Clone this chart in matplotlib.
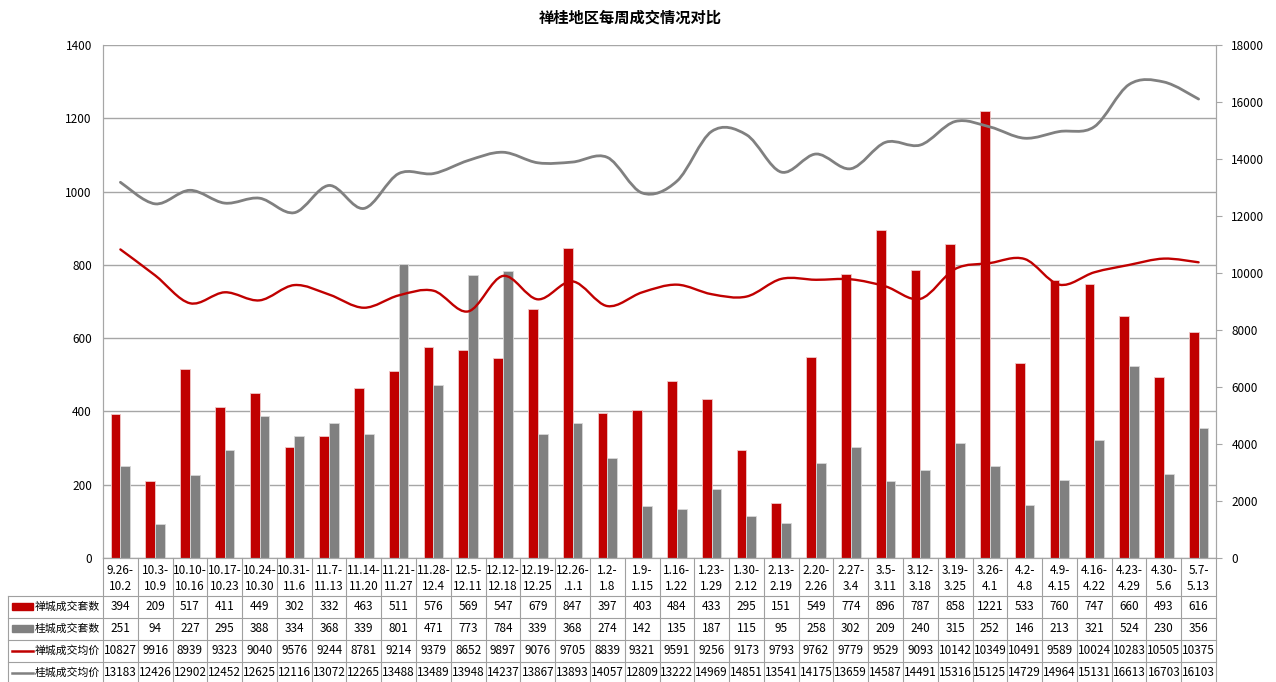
import numpy as np
import matplotlib
matplotlib.use('Agg')
import matplotlib.pyplot as plt
from matplotlib.path import Path
from matplotlib.patches import PathPatch, Rectangle
from matplotlib.lines import Line2D
import matplotlib.transforms as mtransforms

plt.rcParams['font.family'] = ['Noto Sans CJK SC', 'DejaVu Sans']

weeks = ['9.26-10.2', '10.3-10.9', '10.10-10.16', '10.17-10.23', '10.24-10.30', '10.31-11.6',
         '11.7-11.13', '11.14-11.20', '11.21-11.27', '11.28-12.4', '12.5-12.11', '12.12-12.18',
         '12.19-12.25', '12.26-.1.1', '1.2-1.8', '1.9-1.15', '1.16-1.22', '1.23-1.29',
         '1.30-2.12', '2.13-2.19', '2.20-2.26', '2.27-3.4', '3.5-3.11', '3.12-3.18',
         '3.19-3.25', '3.26-4.1', '4.2-4.8', '4.9-4.15', '4.16-4.22', '4.23-4.29',
         '4.30-5.6', '5.7-5.13']
chan_units = [394, 209, 517, 411, 449, 302, 332, 463, 511, 576, 569, 547, 679, 847, 397, 403,
              484, 433, 295, 151, 549, 774, 896, 787, 858, 1221, 533, 760, 747, 660, 493, 616]
gui_units = [251, 94, 227, 295, 388, 334, 368, 339, 801, 471, 773, 784, 339, 368, 274, 142,
             135, 187, 115, 95, 258, 302, 209, 240, 315, 252, 146, 213, 321, 524, 230, 356]
chan_price = [10827, 9916, 8939, 9323, 9040, 9576, 9244, 8781, 9214, 9379, 8652, 9897, 9076,
              9705, 8839, 9321, 9591, 9256, 9173, 9793, 9762, 9779, 9529, 9093, 10142, 10349,
              10491, 9589, 10024, 10283, 10505, 10375]
gui_price = [13183, 12426, 12902, 12452, 12625, 12116, 13072, 12265, 13488, 13489, 13948, 14237,
             13867, 13893, 14057, 12809, 13222, 14969, 14851, 13541, 14175, 13659, 14587, 14491,
             15316, 15125, 14729, 14964, 15131, 16613, 16703, 16103]
row_names = ['禅城成交套数', '桂城成交套数', '禅城成交均价', '桂城成交均价']

RED = '#C00000'
GRAY = '#808080'
GRID = '#A6A6A6'
W, H = 1276, 682

fig = plt.figure(figsize=(W / 100, H / 100), dpi=100)
ax = fig.add_axes([103 / W, 1 - 558 / H, (1216 - 103) / W, (558 - 45) / H])
ax2 = ax.twinx()

x = np.arange(len(weeks))
bw = 0.28
ax.bar(x - bw / 2, chan_units, bw, color=RED, edgecolor='#f0c8c8', linewidth=0.6, zorder=2)
ax.bar(x + bw / 2, gui_units, bw, color=GRAY, edgecolor='#d8d8d8', linewidth=0.6, zorder=2)
ax.set_xlim(-0.5, len(weeks) - 0.5)
ax.set_ylim(0, 1400)
ax.set_yticks(range(0, 1401, 200))
ax.yaxis.grid(True, color=GRID, linewidth=1.0, zorder=0)
ax.set_axisbelow(True)
ax.set_xticks([])
ax.tick_params(axis='y', length=0, pad=8, labelsize=8.5)


def smooth_path(xs, ys):
    # Excel-style smoothed line: Catmull-Rom through the points as cubic Beziers
    pts = np.column_stack([xs, ys]).astype(float)
    ext = np.vstack([pts[0], pts, pts[-1]])
    verts = [pts[0]]
    codes = [Path.MOVETO]
    for i in range(len(pts) - 1):
        p0, p1, p2, p3 = ext[i], ext[i + 1], ext[i + 2], ext[i + 3]
        verts += [p1 + (p2 - p0) / 6, p2 - (p3 - p1) / 6, p2]
        codes += [Path.CURVE4] * 3
    return Path(verts, codes)


ax2.add_patch(PathPatch(smooth_path(x, chan_price), fill=False, edgecolor=RED, linewidth=1.7,
                        capstyle='round', zorder=3))
ax2.add_patch(PathPatch(smooth_path(x, gui_price), fill=False, edgecolor=GRAY, linewidth=2.0,
                        capstyle='round', zorder=3))
ax2.set_ylim(0, 18000)
ax2.set_yticks(range(0, 18001, 2000))
ax2.tick_params(axis='y', length=4, width=0.8, color=GRID, pad=7, labelsize=8.5)

for a in (ax, ax2):
    for s in a.spines.values():
        s.set_color(GRID)
    a.spines['top'].set_visible(False)

fig.text(0.494, 1 - 18 / H, '禅桂地区每周成交情况对比', ha='center', va='center',
         fontsize=11, fontweight='bold')

# data table below the plot
tr = mtransforms.blended_transform_factory(ax.transData, fig.transFigure)
def fy(py):
    return 1 - py / H

lc = '#A0A0A0'
rows_y = [596, 618, 640, 662, 684]
for b in np.arange(len(weeks) + 1) - 0.5:
    fig.add_artist(Line2D([b, b], [fy(558), fy(684)], transform=tr, color=lc, linewidth=0.8))
for py in rows_y:
    fig.add_artist(Line2D([8 / W, 1216 / W], [fy(py), fy(py)], transform=fig.transFigure,
                          color=lc, linewidth=0.8))
fig.add_artist(Line2D([8 / W, 8 / W], [fy(596), fy(684)], transform=fig.transFigure,
                      color=lc, linewidth=0.8))

for i, wk in enumerate(weeks):
    a, b = wk.split('-', 1)
    fig.text(i, fy(570), a + '-', transform=tr, ha='center', va='center', fontsize=8.5)
    fig.text(i, fy(586), b, transform=tr, ha='center', va='center', fontsize=8.5)

series = [chan_units, gui_units, chan_price, gui_price]
for r, vals in enumerate(series):
    cy = fy((rows_y[r] + rows_y[r + 1]) / 2)
    for i, v in enumerate(vals):
        fig.text(i, cy, str(v), transform=tr, ha='center', va='center', fontsize=8.5)
    if r < 2:
        fig.add_artist(Rectangle((12 / W, cy - 3 / H), 21 / W, 7 / H, transform=fig.transFigure,
                                 color=RED if r == 0 else GRAY))
    else:
        fig.add_artist(Line2D([12 / W, 33 / W], [cy, cy], transform=fig.transFigure,
                              color=RED if r == 2 else GRAY, linewidth=1.8))
    fig.text(35 / W, cy, row_names[r], ha='left', va='center', fontsize=7.8)

fig.savefig('out.png', dpi=100)
